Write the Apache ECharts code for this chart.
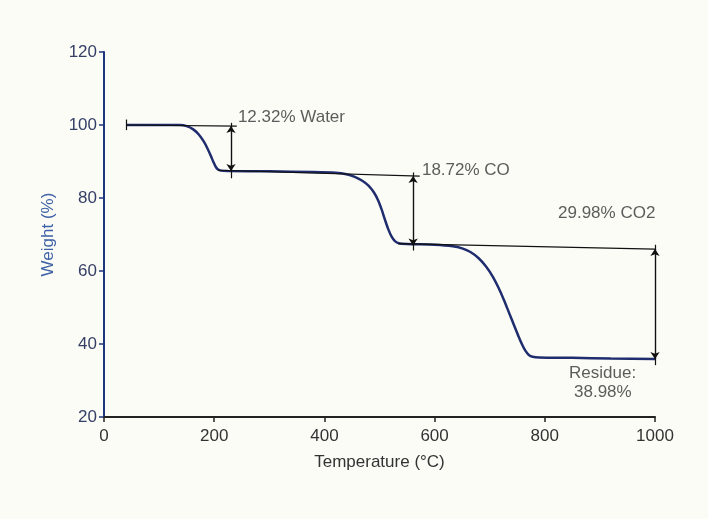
<!DOCTYPE html>
<html>
<head>
<meta charset="utf-8">
<title>TGA – Weight loss vs temperature</title>
<script src="https://cdn.jsdelivr.net/npm/echarts@6/dist/echarts.min.js"></script>
<style>
  html, body { margin: 0; padding: 0; background: #fcfcf7; }
  #chart { width: 708px; height: 519px; }
</style>
</head>
<body>
<div id="chart"></div>
<script>
// Thermogravimetric curve: temperature (°C) and remaining weight (%)
const temps = [40, 100, 138, 150, 162, 172, 181, 188, 194, 199, 203, 207, 212, 225, 300, 380, 420, 440, 455, 468, 480, 490, 498, 504, 510, 516, 522, 528, 535, 550, 600, 633, 650, 665, 680, 693, 705, 716, 726, 735, 744, 752, 759, 765, 771, 778, 790, 850, 920, 1000];
const weights = [100.0, 100.0, 100.0, 99.7, 98.8, 97.4, 95.5, 93.5, 91.5, 89.7, 88.5, 87.8, 87.5, 87.4, 87.3, 87.1, 86.9, 86.5, 85.8, 84.8, 83.4, 81.5, 79.2, 76.8, 74.0, 71.4, 69.4, 68.2, 67.6, 67.4, 67.2, 66.8, 66.2, 65.2, 63.5, 61.3, 58.6, 55.4, 52.0, 48.6, 45.2, 42.2, 39.8, 38.1, 37.0, 36.5, 36.3, 36.2, 36.0, 35.9];

// Axis ticks
const xTicks = [0, 200, 400, 600, 800, 1000];
const yTicks = [20, 40, 60, 80, 100, 120];

// Construction lines: [[x1, y1], [x2, y2]]
const guideSegments = [
  [[40, 100.0], [241, 99.7]],      // initial weight level
  [[40, 101.5], [40, 98.6]],       // start marker
  [[207, 87.6], [573, 86.0]],      // after dehydration
  [[534, 67.5], [1000, 66.0]],     // after CO release
  [[230.5, 100.6], [230.5, 85.4]], // step 1 bracket
  [[561, 87.0], [561, 65.6]],      // step 2 bracket
  [[1000, 67.2], [1000, 34.2]]     // step 3 bracket
];

// Double-headed arrows spanning each mass-loss step: [x, yTop, yBottom]
const arrowSpans = [
  [230.5, 99.7, 87.4],
  [561, 86.0, 67.0],
  [1000, 66.0, 35.9]
];

// Step annotations
const noteTexts = ['12.32% Water', '18.72% CO', '29.98% CO2', 'Residue:', '38.98%'];
const noteAnchors = [[243, 102.2], [577, 87.7], [824, 75.9], [844, 32.1], [853, 26.8]];

const FONT = "'Liberation Sans', Arial, sans-serif";

const chart = echarts.init(document.getElementById('chart'), null, { renderer: 'canvas' });

const guideLines = guideSegments.map(s => [
  { coord: s[0], symbol: 'none' },
  { coord: s[1], symbol: 'none' }
]);
const arrowLines = arrowSpans.map(a => [
  { coord: [a[0], a[1]], symbol: 'arrow' },
  { coord: [a[0], a[2]], symbol: 'arrow' }
]);

chart.setOption({
  animation: false,
  backgroundColor: '#fcfcf7',
  grid: { left: 104, right: 53, top: 52, bottom: 102, containLabel: false },
  xAxis: {
    type: 'value',
    min: xTicks[0],
    max: xTicks[xTicks.length - 1],
    interval: 200,
    name: 'Temperature (°C)',
    nameLocation: 'middle',
    nameGap: 37,
    nameTextStyle: { color: '#333', fontSize: 17, fontFamily: FONT },
    axisLine: { show: true, onZero: false, lineStyle: { color: '#222', width: 2 } },
    axisTick: { show: true, inside: false, length: 5, lineStyle: { color: '#222', width: 1.5 } },
    axisLabel: { color: '#333', fontSize: 17, fontFamily: FONT, margin: 11, formatter: v => String(v) },
    splitLine: { show: false }
  },
  yAxis: {
    type: 'value',
    min: yTicks[0],
    max: yTicks[yTicks.length - 1],
    interval: 20,
    name: 'Weight (%)',
    nameLocation: 'middle',
    nameGap: 47,
    nameRotate: 90,
    nameTextStyle: { color: '#3f62a6', fontSize: 17, fontFamily: FONT },
    axisLine: { show: true, onZero: false, lineStyle: { color: '#1e3580', width: 2 } },
    axisTick: { show: true, inside: false, length: 5, lineStyle: { color: '#1e3580', width: 1.5 } },
    axisLabel: { color: '#353f66', fontSize: 17, fontFamily: FONT, margin: 7, formatter: v => String(v) },
    splitLine: { show: false }
  },
  series: [
    {
      name: 'Weight',
      type: 'line',
      data: temps.map((t, i) => [t, weights[i]]),
      showSymbol: false,
      smooth: 0.25,
      lineStyle: { color: '#1f2d6e', width: 2.5 },
      z: 3
    },
    {
      name: 'Guides',
      type: 'line',
      data: [],
      markLine: {
        silent: true,
        animation: false,
        symbolSize: 7,
        label: { show: false },
        lineStyle: { color: '#111', width: 1.2, type: 'solid' },
        emphasis: { disabled: true },
        data: guideLines.concat(arrowLines)
      },
      z: 2
    },
    {
      name: 'Notes',
      type: 'scatter',
      symbolSize: 0,
      silent: true,
      data: noteAnchors.map((p, i) => ({ value: p, label: { formatter: noteTexts[i] } })),
      label: {
        show: true,
        position: [0, 0],
        align: 'left',
        verticalAlign: 'middle',
        color: '#333',
        fontSize: 17,
        fontFamily: FONT
      },
      z: 4
    }
  ]
});
</script>
</body>
</html>
